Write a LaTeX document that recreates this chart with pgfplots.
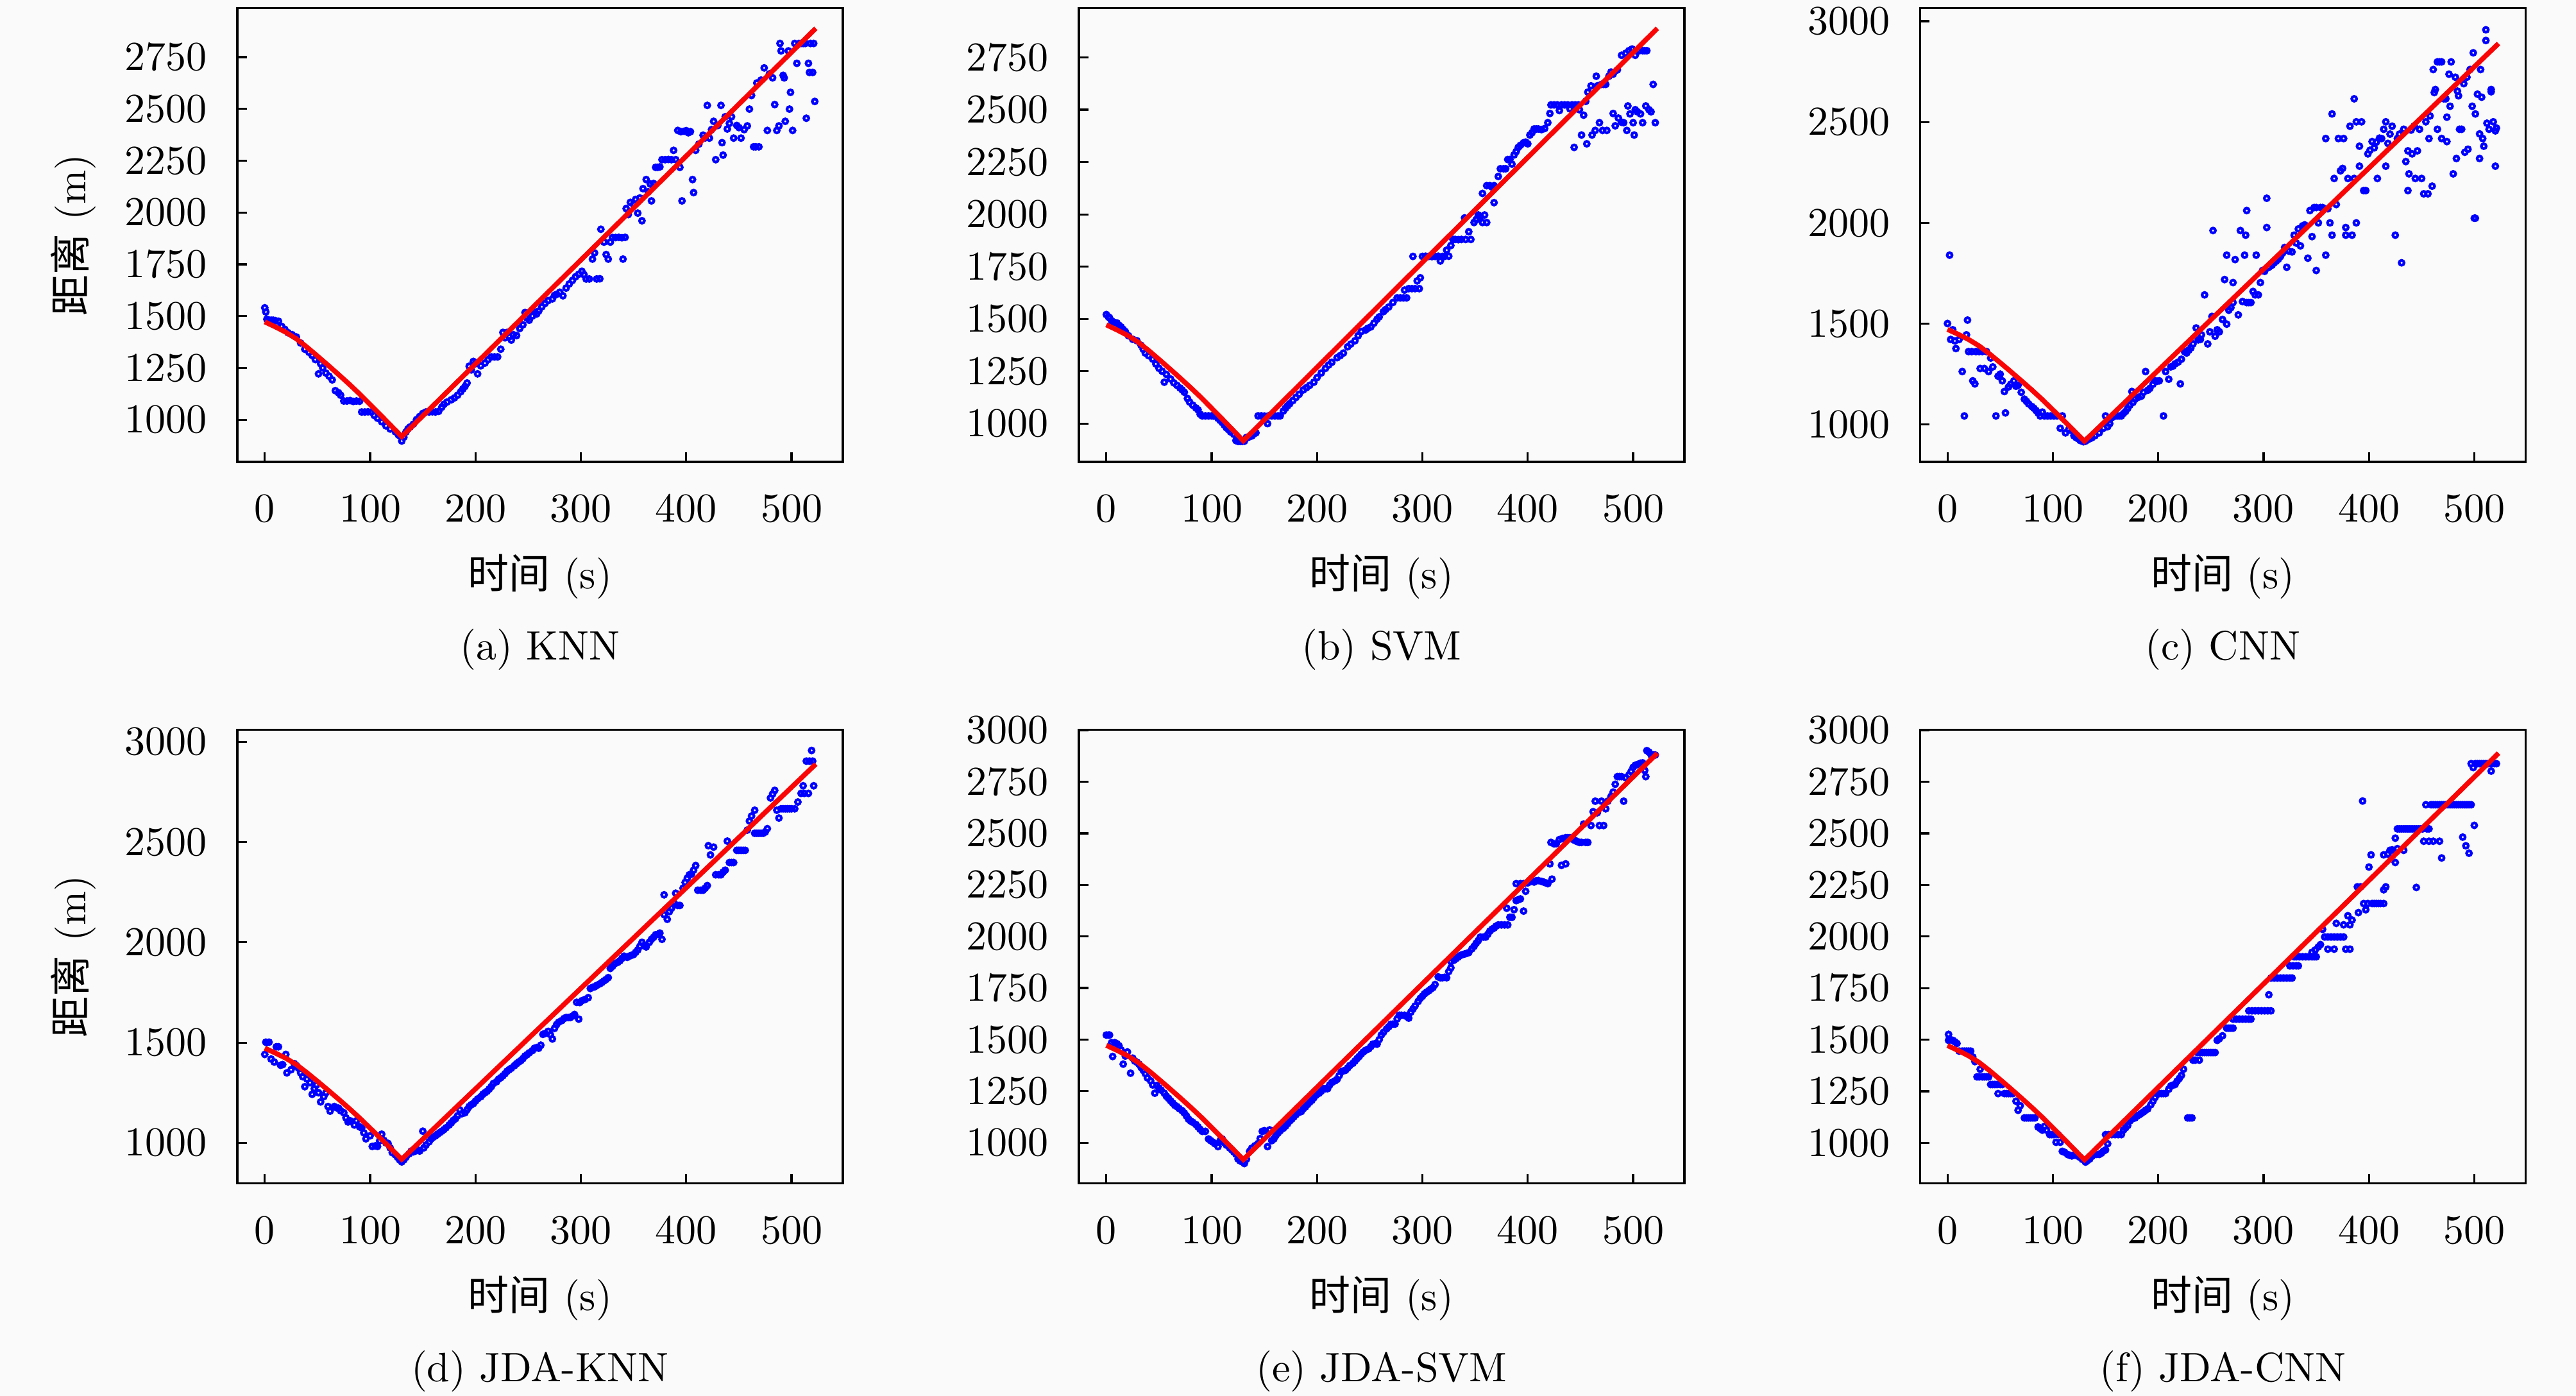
\documentclass[border=0pt]{standalone}
\usepackage{fontspec}
\usepackage{pgfplots}
\pgfplotsset{compat=1.18}
\newfontfamily\cjk{Noto Sans CJK SC}
\definecolor{bg}{RGB}{250,250,250}
\definecolor{ptblue}{RGB}{0,0,255}
\definecolor{linered}{RGB}{250,5,5}
\pgfplotsset{
 panel/.style={
  scale only axis, width=147.5pt, height=110.5pt,
  xmin=-26.1, xmax=548.6,
  xtick={0,100,...,500},
  clip mode=individual,
  tick align=inside, major tick length=2.3pt, tick pos=left,
  axis line style={line width=0.5pt},
  every tick/.style={black, line width=0.5pt},
  scaled ticks=false, /pgf/number format/1000 sep={},
  tick label style={font=\fontsize{10}{12}\selectfont},
  xticklabel style={yshift=-4.7pt},
  yticklabel style={xshift=-3.8pt},
  xlabel={{\cjk 时间} (s)},
  xlabel style={at={(axis description cs:0.5,-0.253)}, anchor=center},
  ylabel style={at={(axis description cs:-0.271,0.5)}, anchor=center},
 },
 pts/.style={only marks, mark=o, mark size=0.6pt, mark options={draw=ptblue, line width=0.65pt}},
 truth/.style={linered, line width=1.2pt, no marks},
}
\newcommand{\truthline}{\addplot[truth] coordinates {(0,1472) (10,1448) (20,1422) (30,1390) (40,1350) (50,1307) (60,1263) (70,1218) (80,1172) (90,1124) (100,1073) (110,1022) (120,970) (130,918) (523,2889)};}
\begin{document}
\begin{tikzpicture}
\fill[bg] (0,0) rectangle (627.5pt,-340pt);
\useasboundingbox (0,0) rectangle (627.5pt,-340pt);

% (a) KNN
\begin{axis}[panel, at={(57.8pt,-2.0pt)}, anchor=north west, ymin=796, ymax=2986, ytick={1000,1250,...,2750}, ylabel={{\cjk 距离} (m)}]
\addplot[pts] coordinates {(0,1540) (1,1520) (2,1485) (4,1480) (6,1480) (8,1480) (10,1478) (13,1475) (16,1450) (19,1436) (22,1420) (26,1410) (30,1399) (34,1370) (38,1340) (42,1325) (45,1310) (48,1290) (51,1221) (53,1270) (55,1250) (58,1225) (61,1210) (64,1192) (67,1140) (70,1130) (72,1118) (75,1090) (78,1090) (81,1092) (84,1088) (87,1090) (90,1089) (92,1037) (95,1037) (98,1038) (101,1037) (104,1020) (107,1007) (111,990) (115,970) (119,955) (124,941) (127,925) (130,897) (132,915) (134,940) (136,956) (138,965) (141,978) (144,1000) (147,1015) (150,1030) (153,1037) (156,1037) (159,1038) (162,1037) (165,1040) (168,1060) (170,1074) (173,1085) (177,1096) (180,1105) (183,1118) (186,1135) (188,1148) (190,1160) (192,1177) (194,1258) (196,1240) (198,1281) (200,1270) (202,1221) (205,1260) (209,1273) (212,1290) (215,1303) (218,1303) (221,1303) (224,1340) (226,1421) (228,1395) (230,1421) (232,1400) (234,1384) (236,1410) (239,1406) (242,1440) (245,1458) (247,1517) (249,1490) (251,1480) (254,1500) (256,1520) (258,1510) (260,1524) (263,1545) (266,1561) (269,1575) (273,1583) (275,1600) (277,1605) (280,1615) (283,1598) (286,1635) (289,1655) (292,1672) (295,1690) (298,1702) (301,1716) (303,1700) (305,1679) (308,1679) (311,1775) (313,1805) (315,1679) (318,1680) (319,1919) (322,1857) (324,1797) (326,1775) (328,1857) (330,1879) (333,1879) (336,1880) (339,1878) (340,1775) (342,1880) (343,2019) (345,1990) (347,2049) (350,2040) (352,2063) (354,1997) (356,2070) (358,1960) (359,2115) (362,2159) (364,2100) (366,2137) (367,2056) (369,2140) (371,2218) (373,2218) (375,2220) (377,2255) (380,2255) (383,2256) (386,2255) (388,2300) (390,2255) (392,2396) (394,2218) (395,2390) (396,2056) (398,2392) (400,2395) (402,2385) (404,2390) (406,2159) (407,2096) (409,2300) (412,2330) (416,2373) (418,2360) (420,2517) (422,2359) (424,2400) (426,2440) (428,2255) (430,2420) (433,2517) (434,2337) (435,2277) (437,2462) (439,2403) (441,2430) (443,2462) (445,2359) (448,2420) (450,2410) (452,2359) (455,2400) (458,2418) (460,2499) (462,2565) (464,2317) (466,2317) (467,2625) (469,2317) (471,2639) (474,2698) (477,2396) (479,2669) (482,2650) (484,2521) (486,2396) (488,2418) (489,2816) (490,2780) (492,2662) (493,2650) (494,2440) (497,2780) (498,2499) (499,2580) (501,2396) (503,2816) (505,2720) (507,2816) (509,2816) (511,2816) (513,2816) (514,2455) (516,2720) (517,2676) (518,2816) (520,2676) (521,2816) (522,2536)};
\truthline
\node at (axis description cs:0.5,-0.414) {(a) KNN};
\end{axis}

% (b) SVM
\begin{axis}[panel, at={(262.8pt,-2.0pt)}, anchor=north west, ymin=817, ymax=2985, ytick={1000,1250,...,2750}]
\addplot[pts] coordinates {(0,1521) (2,1510) (3,1506) (5,1491) (7,1485) (10,1481) (12,1470) (14,1462) (16,1450) (18,1440) (21,1420) (25,1403) (29,1396) (33,1374) (35,1355) (37,1337) (40,1325) (44,1308) (47,1285) (50,1264) (53,1250) (55,1198) (57,1235) (61,1213) (64,1195) (67,1183) (70,1170) (72,1161) (74,1150) (77,1120) (79,1103) (82,1088) (85,1075) (87,1066) (89,1045) (91,1037) (94,1037) (97,1037) (100,1037) (102,1036) (104,1037) (106,1025) (108,1015) (110,1005) (112,993) (114,980) (116,971) (118,960) (121,949) (123,919) (125,915) (127,915) (129,915) (131,916) (133,934) (135,935) (138,941) (140,950) (142,956) (144,1037) (147,1037) (150,1036) (153,1000) (154,1037) (157,1037) (160,1037) (163,1037) (165,1037) (168,1060) (170,1073) (172,1085) (174,1095) (177,1110) (180,1125) (183,1140) (187,1161) (190,1172) (193,1183) (197,1198) (200,1220) (204,1242) (208,1264) (211,1280) (214,1293) (219,1315) (222,1325) (225,1337) (229,1367) (232,1380) (236,1396) (239,1420) (242,1440) (246,1447) (248,1455) (251,1462) (254,1480) (257,1499) (259,1510) (263,1535) (265,1545) (268,1557) (272,1579) (276,1601) (279,1601) (282,1601) (285,1601) (283,1638) (287,1645) (290,1645) (293,1645) (295,1682) (297,1645) (298,1697) (291,1799) (300,1799) (303,1800) (306,1799) (309,1798) (312,1799) (315,1800) (317,1777) (319,1799) (321,1799) (323,1829) (325,1800) (327,1851) (329,1880) (331,1880) (334,1879) (337,1880) (340,1983) (341,1880) (344,1917) (346,1880) (349,1961) (351,1975) (353,1997) (355,1990) (357,1961) (357,2100) (359,1997) (361,2137) (361,1961) (364,2137) (366,2130) (368,2137) (368,2056) (372,2181) (374,2218) (377,2218) (379,2218) (381,2262) (383,2262) (385,2240) (387,2284) (389,2300) (391,2320) (393,2330) (396,2342) (398,2345) (400,2337) (402,2379) (404,2390) (406,2408) (408,2408) (410,2408) (413,2405) (416,2410) (419,2438) (421,2482) (422,2523) (425,2523) (428,2523) (430,2496) (432,2523) (435,2523) (438,2523) (440,2504) (442,2523) (444,2320) (445,2523) (448,2523) (449,2500) (451,2379) (453,2474) (455,2540) (456,2337) (457,2584) (460,2614) (461,2379) (464,2401) (465,2660) (466,2614) (468,2438) (470,2621) (471,2401) (472,2621) (474,2621) (475,2401) (477,2660) (479,2680) (481,2482) (481,2670) (483,2423) (485,2690) (486,2460) (489,2760) (489,2440) (491,2438) (493,2770) (494,2401) (495,2518) (496,2782) (497,2480) (499,2790) (500,2438) (501,2379) (502,2500) (502,2760) (504,2490) (506,2782) (507,2480) (509,2438) (509,2782) (511,2782) (512,2518) (513,2782) (515,2500) (517,2490) (519,2621) (521,2438)};
\truthline
\node at (axis description cs:0.5,-0.414) {(b) SVM};
\end{axis}

% (c) CNN
\begin{axis}[panel, at={(467.7pt,-2.0pt)}, anchor=north west, ymin=815, ymax=3064, ytick={1000,1500,...,3000}]
\addplot[pts] coordinates {(0,1501) (2,1840) (3,1422) (5,1470) (7,1415) (8,1377) (11,1422) (14,1263) (16,1043) (18,1445) (19,1518) (20,1362) (23,1362) (24,1217) (26,1202) (27,1362) (30,1362) (31,1278) (33,1362) (35,1278) (37,1362) (39,1263) (41,1330) (43,1286) (46,1043) (48,1240) (50,1250) (52,1217) (54,1164) (55,1058) (58,1187) (60,1200) (63,1217) (65,1190) (67,1195) (70,1160) (73,1126) (75,1115) (77,1103) (80,1090) (82,1081) (84,1070) (86,1058) (88,1043) (90,1062) (92,1043) (95,1043) (98,1043) (101,1043) (104,1043) (107,982) (109,1043) (112,959) (115,975) (118,970) (120,945) (122,936) (124,930) (126,921) (129,915) (131,918) (133,925) (135,930) (137,935) (140,945) (144,959) (148,982) (150,1043) (152,990) (154,1005) (156,1035) (158,1040) (161,1043) (163,1043) (165,1043) (167,1055) (169,1065) (171,1080) (173,1096) (175,1164) (176,1110) (178,1126) (181,1135) (184,1141) (186,1160) (188,1263) (190,1170) (192,1179) (195,1200) (197,1217) (199,1215) (201,1217) (205,1043) (207,1263) (210,1225) (212,1286) (214,1290) (216,1301) (219,1310) (221,1202) (222,1324) (225,1362) (227,1355) (229,1369) (231,1380) (233,1400) (236,1479) (238,1420) (240,1422) (241,1445) (244,1643) (247,1400) (249,1460) (251,1536) (252,1962) (254,1438) (256,1470) (258,1460) (261,1521) (263,1719) (265,1498) (265,1840) (267,1567) (269,1580) (271,1605) (271,1704) (273,1818) (276,1544) (278,1962) (280,1610) (282,1840) (283,1939) (284,2061) (284,1605) (286,1605) (288,1605) (290,1660) (292,1643) (293,1840) (295,1643) (297,1704) (299,1764) (301,1760) (303,2122) (303,1977) (305,1780) (308,1790) (310,1802) (312,1810) (314,1820) (316,1833) (318,1850) (320,1878) (322,1780) (324,1860) (327,1856) (329,1939) (331,1900) (333,1970) (335,1886) (337,1985) (339,1990) (342,1825) (344,2061) (346,1932) (348,2076) (350,1764) (350,2076) (352,2000) (354,2076) (356,2076) (359,1840) (359,2418) (361,2070) (363,2000) (365,2540) (365,1939) (367,2220) (369,2091) (371,2418) (373,2258) (375,2270) (376,2418) (378,1939) (378,1977) (380,2220) (382,2479) (384,1939) (386,2615) (386,2220) (388,2000) (388,2501) (391,2380) (391,2281) (393,2501) (395,2160) (397,2160) (399,2342) (401,2360) (403,2403) (405,2372) (407,2400) (408,2220) (410,2420) (412,2418) (414,2464) (416,2501) (416,2281) (418,2394) (420,2440) (422,2479) (425,1939) (427,2418) (429,2440) (431,1802) (433,2464) (435,2304) (437,2357) (437,2160) (438,2243) (440,2460) (441,2342) (443,2480) (444,2220) (446,2357) (448,2464) (450,2220) (452,2144) (454,2501) (456,2144) (457,2418) (458,2530) (460,2182) (461,2760) (462,2646) (463,2661) (465,2798) (465,2464) (467,2798) (469,2418) (469,2798) (471,2615) (473,2615) (474,2403) (474,2524) (476,2737) (477,2578) (478,2798) (480,2243) (482,2722) (483,2319) (484,2653) (485,2630) (486,2464) (488,2464) (490,2690) (491,2350) (493,2722) (494,2365) (496,2760) (498,2578) (499,2843) (500,2023) (501,2023) (501,2540) (503,2638) (505,2441) (505,2319) (506,2760) (507,2623) (508,2418) (509,2380) (511,2957) (511,2904) (512,2494) (514,2464) (516,2661) (516,2650) (518,2501) (520,2281) (520,2456) (521,2470)};
\truthline
\node at (axis description cs:0.5,-0.414) {(c) CNN};
\end{axis}

% (d) JDA-KNN
\begin{axis}[panel, at={(57.8pt,-177.7pt)}, anchor=north west, ymin=798, ymax=3061, ytick={1000,1500,...,3000}, ylabel={{\cjk 距离} (m)}]
\addplot[pts] coordinates {(0,1441) (1,1502) (2,1500) (4,1502) (6,1418) (9,1403) (11,1479) (13,1479) (15,1387) (17,1390) (20,1441) (21,1349) (25,1365) (28,1395) (30,1385) (32,1372) (34,1349) (36,1330) (38,1280) (40,1318) (43,1300) (45,1242) (47,1270) (49,1288) (51,1250) (53,1204) (56,1230) (58,1250) (60,1181) (62,1158) (66,1181) (68,1175) (70,1173) (72,1160) (75,1150) (77,1125) (79,1104) (81,1110) (85,1089) (87,1110) (90,1080) (92,1074) (94,1050) (96,1020) (100,1035) (102,982) (105,985) (107,982) (109,1010) (111,1043) (113,1012) (115,1000) (117,997) (119,975) (121,951) (124,940) (126,928) (128,915) (130,905) (132,915) (134,928) (137,945) (139,959) (141,955) (143,959) (145,965) (147,959) (150,1058) (151,975) (153,989) (156,1005) (158,1020) (160,1028) (162,1035) (164,1043) (166,1051) (168,1058) (170,1066) (172,1075) (175,1089) (177,1100) (179,1112) (181,1120) (183,1135) (185,1165) (187,1145) (190,1150) (192,1165) (194,1181) (196,1190) (198,1196) (200,1208) (202,1219) (205,1230) (207,1242) (209,1250) (211,1257) (213,1268) (215,1280) (217,1296) (220,1305) (222,1318) (224,1325) (226,1334) (228,1345) (230,1357) (232,1365) (234,1372) (237,1385) (239,1395) (241,1403) (243,1410) (245,1420) (247,1433) (249,1440) (251,1449) (254,1460) (256,1472) (258,1475) (260,1472) (262,1487) (264,1541) (266,1545) (269,1556) (271,1540) (273,1518) (275,1571) (277,1590) (279,1602) (282,1610) (284,1620) (286,1625) (288,1625) (290,1625) (292,1632) (294,1640) (296,1701) (298,1617) (299,1700) (301,1709) (304,1715) (307,1724) (309,1770) (311,1775) (313,1778) (315,1785) (318,1793) (320,1800) (322,1808) (324,1815) (326,1824) (328,1870) (330,1880) (332,1893) (335,1900) (337,1908) (339,1920) (341,1931) (344,1925) (346,1931) (348,1935) (350,1939) (352,1950) (354,1962) (356,1980) (358,2000) (360,1985) (362,1977) (365,2000) (367,2015) (369,2025) (371,2038) (373,2040) (375,2046) (377,2015) (379,2237) (379,2138) (382,2115) (384,2153) (386,2170) (388,2199) (390,2245) (392,2184) (394,2184) (397,2270) (399,2299) (401,2320) (403,2337) (405,2340) (407,2360) (409,2383) (411,2260) (414,2260) (416,2260) (418,2270) (420,2283) (421,2482) (423,2436) (426,2475) (428,2337) (431,2337) (433,2337) (435,2350) (437,2360) (439,2505) (441,2398) (443,2398) (445,2398) (448,2459) (450,2459) (452,2459) (454,2459) (456,2459) (458,2560) (460,2605) (462,2630) (465,2659) (465,2544) (467,2544) (469,2544) (471,2544) (473,2544) (475,2550) (477,2567) (480,2720) (482,2740) (484,2758) (486,2659) (488,2620) (490,2666) (492,2666) (494,2666) (496,2666) (498,2666) (500,2666) (503,2666) (506,2700) (509,2743) (511,2781) (512,2743) (514,2904) (516,2743) (517,2904) (519,2957) (520,2904) (521,2781)};
\truthline
\node at (axis description cs:0.5,-0.414) {(d) JDA-KNN};
\end{axis}

% (e) JDA-SVM
\begin{axis}[panel, at={(262.8pt,-177.7pt)}, anchor=north west, ymin=803, ymax=3003, ytick={1000,1250,...,3000}]
\addplot[pts] coordinates {(0,1522) (2,1522) (3,1522) (5,1485) (6,1418) (8,1485) (10,1480) (12,1470) (14,1450) (16,1381) (18,1420) (20,1440) (23,1337) (25,1410) (27,1396) (29,1390) (31,1381) (33,1365) (35,1351) (37,1335) (39,1314) (42,1300) (44,1280) (46,1240) (48,1277) (50,1265) (52,1255) (55,1240) (57,1225) (59,1215) (61,1203) (63,1192) (65,1181) (67,1175) (69,1166) (72,1155) (74,1144) (76,1130) (78,1114) (80,1105) (82,1099) (85,1088) (87,1077) (89,1065) (91,1055) (94,1055) (97,1018) (99,1010) (101,1003) (103,995) (106,981) (108,1010) (110,1018) (112,1000) (114,988) (117,975) (119,966) (121,955) (123,944) (125,921) (127,912) (129,907) (131,899) (133,920) (136,958) (138,973) (141,985) (144,996) (146,1020) (148,1055) (150,1058) (153,981) (155,1062) (157,1010) (159,1018) (161,1035) (163,1047) (165,1058) (168,1070) (170,1080) (172,1092) (174,1105) (176,1114) (178,1125) (180,1136) (182,1145) (185,1151) (187,1165) (189,1174) (191,1185) (193,1196) (195,1205) (197,1218) (199,1230) (202,1240) (204,1250) (206,1262) (208,1262) (210,1262) (212,1280) (214,1292) (217,1300) (219,1307) (221,1325) (223,1344) (225,1348) (227,1351) (229,1362) (231,1374) (234,1385) (236,1396) (238,1408) (240,1418) (242,1430) (244,1440) (246,1448) (249,1455) (251,1466) (253,1478) (255,1480) (257,1478) (259,1500) (261,1522) (263,1535) (266,1552) (268,1562) (270,1574) (272,1575) (274,1575) (276,1600) (278,1618) (280,1618) (283,1618) (285,1612) (287,1604) (289,1633) (291,1648) (293,1663) (296,1685) (298,1700) (300,1710) (302,1722) (304,1730) (306,1737) (308,1745) (310,1752) (312,1767) (315,1804) (317,1800) (319,1800) (321,1802) (323,1800) (325,1830) (327,1848) (327,1878) (330,1885) (332,1893) (334,1900) (336,1908) (338,1912) (340,1915) (342,1918) (344,1922) (347,1940) (349,1952) (351,1967) (353,1980) (355,1997) (358,1997) (360,1997) (362,2010) (364,2026) (366,2035) (368,2041) (370,2050) (372,2056) (375,2056) (378,2056) (380,2137) (381,2056) (383,2093) (385,2093) (387,2130) (389,2174) (389,2256) (391,2178) (393,2182) (393,2256) (396,2123) (396,2256) (398,2219) (400,2260) (402,2271) (404,2267) (406,2264) (408,2270) (410,2271) (413,2267) (415,2264) (417,2260) (419,2256) (421,2352) (422,2456) (423,2278) (425,2449) (427,2450) (430,2470) (432,2345) (433,2475) (436,2352) (436,2479) (438,2479) (440,2479) (443,2470) (445,2465) (447,2460) (449,2456) (451,2456) (453,2545) (455,2456) (457,2456) (460,2538) (462,2605) (464,2656) (466,2600) (468,2538) (470,2656) (472,2538) (474,2619) (476,2656) (479,2679) (481,2700) (483,2738) (485,2775) (487,2775) (489,2775) (491,2656) (493,2770) (496,2783) (498,2800) (500,2820) (502,2830) (504,2834) (507,2840) (509,2842) (511,2805) (512,2775) (513,2901) (515,2894) (517,2880) (519,2880) (521,2880)};
\truthline
\node at (axis description cs:0.5,-0.414) {(e) JDA-SVM};
\end{axis}

% (f) JDA-CNN
\begin{axis}[panel, at={(467.7pt,-177.7pt)}, anchor=north west, ymin=804, ymax=3003, ytick={1000,1250,...,3000}]
\addplot[pts] coordinates {(1,1526) (1,1497) (3,1500) (5,1497) (7,1490) (9,1482) (11,1445) (14,1445) (16,1445) (18,1445) (20,1445) (22,1445) (24,1416) (26,1394) (28,1320) (30,1320) (31,1357) (33,1320) (35,1320) (37,1320) (39,1320) (41,1283) (43,1283) (45,1283) (47,1283) (48,1239) (50,1283) (52,1283) (54,1239) (56,1239) (58,1239) (60,1239) (62,1239) (65,1202) (67,1158) (69,1180) (73,1121) (75,1121) (77,1121) (79,1121) (81,1121) (83,1121) (86,1077) (88,1070) (90,1062) (92,1080) (94,1062) (97,1040) (99,1040) (101,1040) (103,1003) (105,1040) (107,1003) (109,959) (111,955) (114,944) (116,940) (118,937) (120,940) (122,944) (124,935) (126,929) (128,920) (131,907) (133,915) (135,922) (137,935) (139,944) (141,944) (144,944) (146,950) (148,960) (150,966) (150,1040) (152,996) (153,1040) (156,1040) (159,1040) (162,1040) (165,1040) (167,1062) (169,1073) (171,1084) (173,1106) (175,1115) (178,1121) (180,1130) (182,1136) (184,1143) (186,1150) (188,1158) (190,1165) (193,1185) (195,1202) (197,1220) (199,1239) (201,1239) (203,1239) (205,1239) (207,1239) (210,1260) (212,1276) (214,1280) (216,1283) (218,1300) (220,1312) (222,1327) (224,1357) (228,1121) (230,1121) (232,1121) (233,1401) (235,1401) (237,1438) (239,1401) (240,1438) (242,1438) (244,1438) (246,1438) (248,1438) (250,1438) (252,1438) (254,1438) (256,1497) (258,1505) (261,1519) (265,1556) (267,1556) (269,1556) (271,1556) (271,1600) (274,1600) (277,1600) (280,1600) (283,1600) (286,1600) (288,1600) (286,1640) (289,1640) (292,1640) (295,1640) (298,1640) (301,1640) (304,1640) (307,1640) (305,1718) (307,1799) (310,1799) (313,1799) (316,1799) (319,1799) (322,1799) (325,1799) (327,1799) (325,1858) (328,1858) (331,1858) (333,1858) (329,1902) (331,1902) (334,1902) (337,1902) (340,1902) (343,1902) (346,1902) (348,1902) (350,1902) (346,1924) (349,1935) (352,1950) (354,1961) (356,2035) (358,1998) (361,1998) (361,1939) (364,1998) (367,1998) (367,1939) (370,1998) (373,1998) (376,1998) (369,2064) (376,2057) (378,1939) (380,2101) (382,1939) (382,2057) (384,2080) (389,2241) (390,2116) (392,2241) (394,2657) (395,2160) (397,2130) (399,2160) (400,2337) (402,2396) (403,2160) (405,2160) (407,2160) (409,2160) (411,2160) (414,2160) (414,2227) (416,2241) (414,2396) (418,2400) (420,2418) (422,2420) (425,2359) (425,2477) (427,2426) (427,2522) (429,2522) (431,2522) (433,2522) (433,2418) (435,2522) (437,2522) (439,2522) (441,2522) (443,2522) (445,2522) (445,2238) (447,2522) (449,2522) (451,2522) (452,2462) (454,2639) (455,2522) (457,2522) (457,2462) (459,2639) (461,2639) (461,2462) (463,2639) (465,2639) (467,2639) (467,2462) (469,2381) (469,2639) (471,2639) (473,2639) (475,2639) (477,2639) (479,2639) (481,2639) (483,2639) (485,2639) (487,2639) (489,2482) (489,2639) (491,2639) (492,2440) (493,2639) (495,2404) (495,2639) (497,2639) (497,2838) (499,2819) (500,2539) (501,2838) (503,2838) (505,2838) (507,2838) (509,2838) (511,2838) (513,2838) (515,2838) (516,2802) (517,2838) (519,2838) (521,2838)};
\truthline
\node at (axis description cs:0.5,-0.414) {(f) JDA-CNN};
\end{axis}
\end{tikzpicture}
\end{document}
